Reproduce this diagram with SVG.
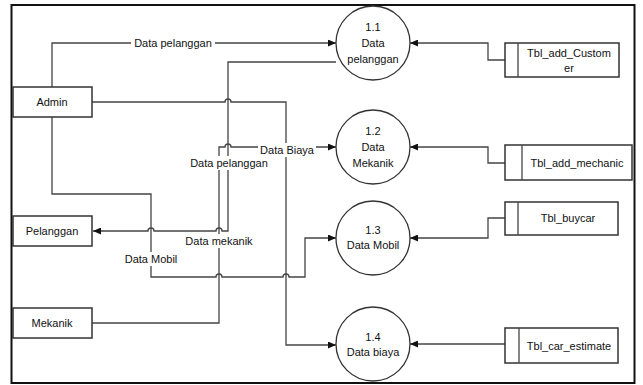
<svg xmlns="http://www.w3.org/2000/svg" width="643" height="385" viewBox="0 0 643 385">
<style>
  text { font-family: "Liberation Sans", Arial, sans-serif; font-size: 11px; fill: #111; text-anchor: middle; dominant-baseline: central; }
  .box { fill: #fff; stroke: #333; stroke-width: 1.5; }
  .proc { fill: #fff; stroke: #333; stroke-width: 1.3; }
  .line { fill: none; stroke: #444; stroke-width: 1.3; }
  .arrow { marker-end: url(#ah); }
  .lbl { fill: #fff; stroke: none; }
</style>
<defs>
  <marker id="ah" markerWidth="8" markerHeight="7" refX="8" refY="3.5" orient="auto" markerUnits="userSpaceOnUse">
    <path d="M0,0 L8,3.5 L0,7 z" fill="#111"/>
  </marker>
</defs>
<rect x="0" y="0" width="643" height="385" fill="#fff"/>
<rect x="11.5" y="5" width="623" height="378" fill="none" stroke="#111" stroke-width="2"/>

<g id="connectors">
  <path class="line arrow" d="M52,87 V43 H336"/>
  <path class="line arrow" d="M336,62 H228 V231 H222 a3,3 0 0 0 -6,0 H154 a3,3 0 0 0 -6,0 H93"/>
  <path class="line arrow" d="M92,102 H225 a3,3 0 0 1 6,0 H286 V345 H336"/>
  <path class="line arrow" d="M92,323 H219 V147 H225 a3,3 0 0 1 6,0 H336"/>
  <path class="line arrow" d="M52,117 V194 H151 V277 H216 a3,3 0 0 1 6,0 H283 a3,3 0 0 1 6,0 H305 V238 H336"/>
  <path class="line arrow" d="M505,60 H488 V43 H410"/>
  <path class="line arrow" d="M505,163 H488 V147 H410"/>
  <path class="line arrow" d="M505,218 H488 V238 H410"/>
  <path class="line arrow" d="M505,344 H410"/>
  <rect class="lbl" x="131" y="36" width="84" height="14"/>
  <text x="173" y="43">Data pelanggan</text>
  <rect class="lbl" x="187" y="156" width="84" height="14"/>
  <text x="229" y="163">Data pelanggan</text>
  <rect class="lbl" x="258" y="143" width="58" height="14"/>
  <text x="287" y="150">Data Biaya</text>
  <rect class="lbl" x="183" y="234" width="72" height="14"/>
  <text x="219" y="241">Data mekanik</text>
  <rect class="lbl" x="122" y="252" width="58" height="14"/>
  <text x="151" y="259">Data Mobil</text>
</g>

<g id="admin"><rect class="box" x="13" y="87" width="79" height="30"/><text x="52" y="102">Admin</text></g>
<g id="pelanggan"><rect class="box" x="13" y="216" width="79" height="30"/><text x="52" y="231">Pelanggan</text></g>
<g id="mekanik"><rect class="box" x="13" y="308" width="79" height="30"/><text x="52" y="323">Mekanik</text></g>

<g id="p1_1"><circle class="proc" cx="373" cy="43" r="37"/><text x="373" y="27">1.1</text><text x="373" y="43">Data</text><text x="373" y="59">pelanggan</text></g>
<g id="p1_2"><circle class="proc" cx="373" cy="147" r="37"/><text x="373" y="131">1.2</text><text x="373" y="147">Data</text><text x="373" y="163">Mekanik</text></g>
<g id="p1_3"><circle class="proc" cx="373" cy="238" r="37"/><text x="373" y="230">1.3</text><text x="373" y="245">Data Mobil</text></g>
<g id="p1_4"><circle class="proc" cx="373" cy="344" r="37"/><text x="373" y="337">1.4</text><text x="373" y="352">Data biaya</text></g>

<g id="tbl_add_customer"><rect class="box" x="505" y="43" width="114" height="34"/><line class="line" x1="518" y1="43" x2="518" y2="77"/><text x="569" y="53">Tbl_add_Custom</text><text x="569" y="68">er</text></g>
<g id="tbl_add_mechanic"><rect class="box" x="505" y="145" width="127" height="35"/><line class="line" x1="522" y1="145" x2="522" y2="180"/><text x="577" y="163">Tbl_add_mechanic</text></g>
<g id="tbl_buycar"><rect class="box" x="505" y="202" width="113" height="33"/><line class="line" x1="518" y1="202" x2="518" y2="235"/><text x="568" y="218">Tbl_buycar</text></g>
<g id="tbl_car_estimate"><rect class="box" x="505" y="328" width="113" height="35"/><line class="line" x1="519" y1="328" x2="519" y2="363"/><text x="569" y="346">Tbl_car_estimate</text></g>
</svg>
